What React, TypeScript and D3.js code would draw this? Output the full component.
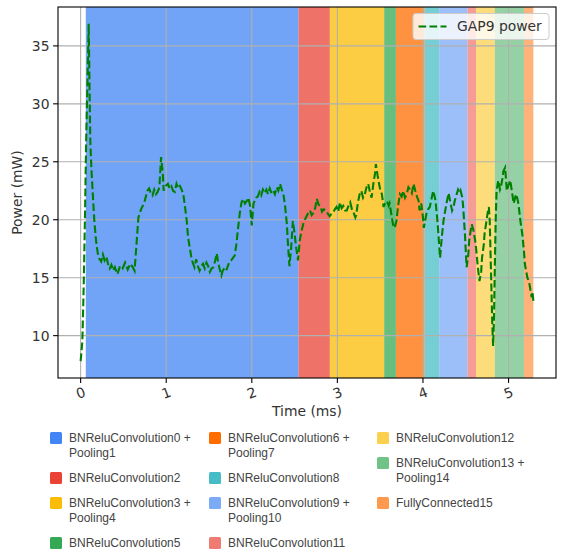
import React from "react";
import * as d3 from "d3";

// ---- data ----
const layerNames: string[] = [
  "BNReluConvolution0 +\nPooling1",
  "BNReluConvolution2",
  "BNReluConvolution3 +\nPooling4",
  "BNReluConvolution5",
  "BNReluConvolution6 +\nPooling7",
  "BNReluConvolution8",
  "BNReluConvolution9 +\nPooling10",
  "BNReluConvolution11",
  "BNReluConvolution12",
  "BNReluConvolution13 +\nPooling14",
  "FullyConnected15",
];
const layerColors: string[] = [
  "#4285F4", "#EA4335", "#FBBC04", "#34A853", "#FF6D01", "#46BDC6",
  "#7BAAF7", "#F07B72", "#FCD04F", "#71C287", "#FF994D",
];
const layerStartMs: number[] = [0.06, 2.546, 2.912, 3.547, 3.684, 4.02, 4.19, 4.52, 4.62, 4.84, 5.18];
const layerEndMs: number[] = [2.546, 2.912, 3.547, 3.684, 4.02, 4.19, 4.52, 4.62, 4.84, 5.18, 5.29];

const timeMs: number[] = [
  0.0, 0.02, 0.035, 0.05, 0.065, 0.08, 0.094, 0.105, 0.113, 0.125, 0.14, 0.16, 0.18, 0.2, 0.22, 0.24, 0.26, 0.28, 0.3, 0.32,
  0.34, 0.36, 0.38, 0.4, 0.43, 0.46, 0.49, 0.52, 0.55, 0.58, 0.61, 0.63, 0.647, 0.675, 0.706, 0.745, 0.78, 0.8, 0.82, 0.84,
  0.86, 0.88, 0.9, 0.92, 0.94, 0.96, 0.97, 0.99, 1.02, 1.04, 1.06, 1.08, 1.1, 1.12, 1.14, 1.16, 1.18, 1.2, 1.22, 1.24,
  1.255, 1.275, 1.295, 1.31, 1.33, 1.35, 1.37, 1.39, 1.41, 1.43, 1.45, 1.47, 1.49, 1.51, 1.53, 1.55, 1.57, 1.59, 1.61, 1.63,
  1.645, 1.66, 1.68, 1.7, 1.72, 1.74, 1.76, 1.78, 1.8, 1.82, 1.84, 1.86, 1.88, 1.9, 1.92, 1.94, 1.96, 1.98, 2.0, 2.02,
  2.05, 2.07, 2.09, 2.11, 2.13, 2.15, 2.17, 2.19, 2.21, 2.23, 2.25, 2.27, 2.29, 2.31, 2.33, 2.35, 2.37, 2.39, 2.41, 2.42,
  2.44, 2.46, 2.48, 2.5, 2.52, 2.54, 2.56, 2.58, 2.6, 2.62, 2.64, 2.66, 2.68, 2.7, 2.72, 2.74, 2.76, 2.78, 2.8, 2.82,
  2.84, 2.87, 2.89, 2.91, 2.93, 2.95, 2.97, 2.99, 3.01, 3.03, 3.05, 3.07, 3.09, 3.11, 3.13, 3.15, 3.17, 3.19, 3.21, 3.22,
  3.24, 3.26, 3.28, 3.3, 3.32, 3.34, 3.36, 3.38, 3.4, 3.42, 3.44, 3.45, 3.47, 3.48, 3.5, 3.52, 3.54, 3.56, 3.58, 3.6,
  3.61, 3.63, 3.65, 3.67, 3.69, 3.71, 3.73, 3.75, 3.77, 3.79, 3.81, 3.83, 3.85, 3.87, 3.89, 3.91, 3.93, 3.95, 3.96, 3.98,
  4.0, 4.01, 4.03, 4.04, 4.06, 4.08, 4.1, 4.12, 4.14, 4.15, 4.17, 4.18, 4.2, 4.22, 4.24, 4.26, 4.28, 4.3, 4.32, 4.34,
  4.36, 4.37, 4.39, 4.41, 4.43, 4.44, 4.46, 4.47, 4.49, 4.51, 4.53, 4.54, 4.56, 4.57, 4.59, 4.61, 4.62, 4.64, 4.66, 4.68,
  4.69, 4.71, 4.72, 4.74, 4.76, 4.77, 4.78, 4.79, 4.8, 4.81, 4.82, 4.83, 4.84, 4.85, 4.86, 4.88, 4.9, 4.91, 4.93, 4.94,
  4.96, 4.97, 4.98, 5.0, 5.02, 5.04, 5.06, 5.08, 5.09, 5.11, 5.12, 5.14, 5.16, 5.18, 5.19, 5.21, 5.22, 5.24, 5.25, 5.27,
  5.28, 5.29,
];
const powerMw: number[] = [
  7.8, 9.5, 14, 20, 27, 32, 36.9, 31, 26.8, 24.5, 22.5, 19.9, 18.2, 17.1, 16.6, 16.4, 17.0, 16.5, 16.8, 16.2,
  15.8, 16.1, 15.6, 15.9, 15.3, 16.0, 15.8, 16.3, 15.7, 16.2, 15.9, 15.6, 17.3, 20.2, 20.9, 21.5, 22.5, 22.7, 22.3, 22.1,
  22.6, 22.2, 22.4, 22.8, 25.4, 24.0, 22.5, 22.9, 23.1, 22.7, 22.9, 22.5, 22.4, 23.1, 22.7, 22.9, 22.6, 22.2, 21.1, 19.9,
  18.5, 17.6, 16.7, 16.3, 15.9, 16.6, 16.0, 15.6, 16.0, 16.2, 15.8, 16.3, 16.0, 15.5, 15.8, 15.9, 16.4, 17.1, 16.2, 15.6,
  15.2, 15.6, 15.8, 15.6, 16.0, 16.4, 16.5, 16.7, 16.9, 17.9, 19.3, 20.6, 21.5, 21.8, 21.4, 21.6, 21.9, 21.2, 19.5, 21.4,
  21.9, 22.0, 22.4, 22.1, 22.6, 22.3, 22.6, 22.2, 22.7, 22.3, 22.5, 22.2, 22.8, 22.5, 23.1, 22.6, 22.2, 21.1, 19.6, 18.2,
  16.0, 17.6, 19.9, 18.8, 17.5, 16.5, 18.2, 19.0, 19.6, 20.0, 20.3, 20.6, 20.8, 20.4, 20.6, 21.0, 21.8, 21.3, 21.2, 20.7,
  20.9, 20.8, 20.5, 20.3, 20.5, 20.6, 20.9, 21.1, 20.7, 21.5, 21.0, 21.2, 20.8, 20.8, 21.2, 21.5, 20.9, 20.6, 20.2, 20.4,
  21.5, 22.2, 22.5, 21.9, 22.2, 22.8, 23.1, 22.4, 21.9, 23.1, 24.0, 24.8, 23.8, 23.4, 22.6, 22.2, 21.1, 21.5, 21.6, 21.2,
  21.4, 20.5, 19.6, 19.3, 19.9, 21.2, 22.2, 22.0, 22.5, 21.9, 22.2, 22.8, 22.6, 22.3, 23.1, 22.5, 22.0, 21.6, 20.8, 21.4,
  20.2, 19.3, 20.1, 20.5, 20.9, 21.1, 21.8, 22.5, 21.9, 21.4, 19.8, 18.8, 16.7, 18.5, 19.9, 20.8, 21.6, 22.3, 21.5, 20.8,
  21.2, 21.6, 22.1, 22.6, 22.3, 22.5, 21.9, 21.1, 18.8, 15.9, 17.0, 18.2, 19.2, 19.6, 19.1, 18.2, 17.6, 16.0, 14.7, 15.5,
  16.7, 17.8, 18.8, 19.8, 20.8, 21.1, 19.9, 17.0, 14.0, 11.0, 9.1, 11.5, 16.0, 20.0, 22.5, 23.4, 22.6, 22.8, 23.6, 24.2,
  24.5, 23.5, 22.5, 23.0, 23.4, 22.4, 21.4, 22.0, 22.2, 21.6, 21.1, 19.8, 18.8, 17.3, 16.2, 15.4, 15.0, 14.6, 14.2, 13.3,
  13.8, 13.0,
];
const xTicks: number[] = [0, 1, 2, 3, 4, 5];
const yTicks: number[] = [10, 15, 20, 25, 30, 35];
const legendColumns: number[][] = [[0, 1, 2, 3], [4, 5, 6, 7], [8, 9, 10]];
const seriesLabel = "GAP9 power";

// ---- layout ----
const W = 569, H = 554;
const plot = { left: 58, top: 7, right: 556, bottom: 378 };
const MPL = "'DejaVu Sans', sans-serif";
const TEXT = "#333";

export default function App() {
  const pts = timeMs.map((t, i) => ({ t, p: powerMw[i] }));
  const [x0, x1] = d3.extent(timeMs) as [number, number];
  const [y0, y1] = d3.extent(powerMw) as [number, number];
  const xPad = (x1 - x0) * 0.05, yPad = (y1 - y0) * 0.05;
  const x = d3.scaleLinear().domain([x0 - xPad, x1 + xPad]).range([plot.left, plot.right]);
  const y = d3.scaleLinear().domain([y0 - yPad, y1 + yPad]).range([plot.bottom, plot.top]);
  const line = d3.line<{ t: number; p: number }>().x(d => x(d.t)).y(d => y(d.p));

  const colX = [50, 209, 377];
  const rowStart = 438;

  return (
    <svg width={W} height={H} style={{ position: "absolute", left: 0, top: 0, background: "#fff" }}>
      <defs>
        <clipPath id="pa">
          <rect x={plot.left} y={plot.top} width={plot.right - plot.left} height={plot.bottom - plot.top} />
        </clipPath>
      </defs>
      <rect x={0} y={0} width={W} height={H} fill="#fff" />
      <g clipPath="url(#pa)">
        {layerStartMs.map((s, i) => (
          <rect key={i} x={x(s)} y={plot.top} width={x(layerEndMs[i]) - x(s)} height={plot.bottom - plot.top}
            fill={layerColors[i]} fillOpacity={0.75} />
        ))}
        {xTicks.map(t => (
          <line key={"gx" + t} x1={x(t)} x2={x(t)} y1={plot.top} y2={plot.bottom} stroke="#b0b0b0" strokeWidth={1.1} />
        ))}
        {yTicks.map(t => (
          <line key={"gy" + t} x1={plot.left} x2={plot.right} y1={y(t)} y2={y(t)} stroke="#b0b0b0" strokeWidth={1.1} />
        ))}
        <path d={line(pts) || ""} fill="none" stroke="#008000" strokeWidth={2.1} strokeDasharray="7.7,3.3" />
      </g>
      <rect x={plot.left} y={plot.top} width={plot.right - plot.left} height={plot.bottom - plot.top}
        fill="none" stroke="#000" strokeWidth={1.1} />
      {yTicks.map(t => (
        <g key={"ty" + t}>
          <line x1={plot.left - 4.9} x2={plot.left} y1={y(t)} y2={y(t)} stroke="#000" strokeWidth={1.1} />
          <text x={plot.left - 8.5} y={y(t)} dy="0.35em" textAnchor="end" fontFamily={MPL} fontSize={13.9} fill={TEXT}>{t}</text>
        </g>
      ))}
      {xTicks.map(t => (
        <g key={"tx" + t}>
          <line x1={x(t)} x2={x(t)} y1={plot.bottom} y2={plot.bottom + 4.9} stroke="#000" strokeWidth={1.1} />
          <text transform={`translate(${x(t)},${plot.bottom + 15}) rotate(-20)`} dy="0.35em" textAnchor="middle"
            fontFamily={MPL} fontSize={13.9} fill={TEXT}>{t}</text>
        </g>
      ))}
      <text x={(plot.left + plot.right) / 2} y={416} textAnchor="middle" fontFamily={MPL} fontSize={13.9} fill={TEXT}>Time (ms)</text>
      <text transform={`translate(22,${(plot.top + plot.bottom) / 2}) rotate(-90)`} textAnchor="middle"
        fontFamily={MPL} fontSize={13.9} fill={TEXT}>Power (mW)</text>

      {/* series legend */}
      <g>
        <rect x={413} y={13.5} width={136} height={26} rx={3} fill="#fff" fillOpacity={0.8} stroke="#cccccc" strokeWidth={1} />
        <line x1={418.5} x2={446.5} y1={26.5} y2={26.5} stroke="#008000" strokeWidth={2.1} strokeDasharray="7.7,3.3" />
        <text x={457} y={26.5} dy="0.35em" fontFamily={MPL} fontSize={13.9} fill={TEXT}>{seriesLabel}</text>
      </g>

      {/* layer legend */}
      {legendColumns.map((col, ci) => {
        let yy = rowStart;
        return col.map(idx => {
          const lines = layerNames[idx].split("\n");
          const cy = yy;
          yy += 25 + 15 * (lines.length - 1);
          return (
            <g key={"lg" + idx}>
              <rect x={colX[ci]} y={cy - 6} width={12} height={12} rx={1.5} fill={layerColors[idx]} />
              {lines.map((ln, li) => (
                <text key={li} x={colX[ci] + 19} y={cy + li * 15} dy="0.35em" fontFamily="'Liberation Sans', Arial, sans-serif"
                  fontSize={12} fill="#444">{ln}</text>
              ))}
            </g>
          );
        });
      })}
    </svg>
  );
}
